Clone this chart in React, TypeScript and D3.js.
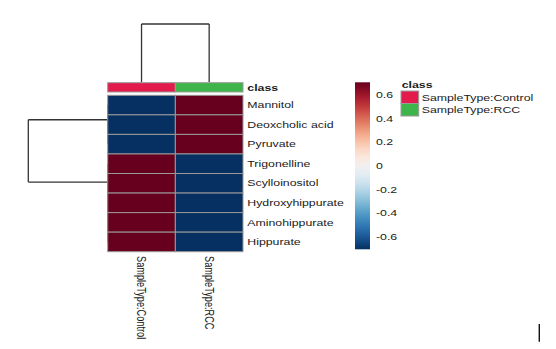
import React from 'react';
import * as d3 from 'd3';

const rowNames = ["Mannitol", "Deoxcholic acid", "Pyruvate", "Trigonelline", "Scylloinositol", "Hydroxyhippurate", "Aminohippurate", "Hippurate"];
const colNames = ["SampleType:Control", "SampleType:RCC"];
const controlValues = [-0.707, -0.707, -0.707, 0.707, 0.707, 0.707, 0.707, 0.707];
const rccValues = [0.707, 0.707, 0.707, -0.707, -0.707, -0.707, -0.707, -0.707];
const classLevels = ["SampleType:Control", "SampleType:RCC"];
const classColors = ["#e31b4c", "#3db54a"];
const legendTicks = [-0.6, -0.4, -0.2, 0, 0.2, 0.4, 0.6];
const valueMin = -0.707;
const valueMax = 0.707;
// hclust-style merges: negative = leaf index (1-based), positive = earlier merge
const rowMerge = [[-2, -3], [-1, 1], [-7, -8], [-6, 3], [-5, 4], [-4, 5], [2, 6]];
const rowHeights = [0, 0, 0, 0, 0, 0, 1];
const colMerge = [[-1, -2]];
const colHeights = [1];

const SX = 1.34;
const FS = 9.2;
const FONT = "'Liberation Sans', Arial, Helvetica, sans-serif";
const TEXT = "#1a1a1a";
const LINE = "#333333";

function dendro(merge: number[][], heights: number[], leafPos: (i: number) => number) {
  const pos: number[] = [];
  const segs: { h0: number; h1: number; p0: number; p1: number }[] = [];
  const P = (k: number) => (k < 0 ? leafPos(-k - 1) : pos[k - 1]);
  const Hh = (k: number) => (k < 0 ? 0 : heights[k - 1]);
  merge.forEach(([a, b], i) => {
    const pa = P(a), pb = P(b), h = heights[i];
    pos[i] = (pa + pb) / 2;
    segs.push({ h0: h, h1: h, p0: pa, p1: pb });
    segs.push({ h0: Hh(a), h1: h, p0: pa, p1: pa });
    segs.push({ h0: Hh(b), h1: h, p0: pb, p1: pb });
  });
  return segs;
}

export default function App() {
  const x = d3.scaleBand<string>().domain(colNames).range([107.7, 243]).padding(0);
  const y = d3.scaleBand<string>().domain(rowNames).range([95.3, 251.7]).padding(0);
  const color = (v: number) => d3.interpolateRdBu((valueMax - v) / (valueMax - valueMin));
  const colValues = [controlValues, rccValues];
  const classColor = d3.scaleOrdinal<string, string>().domain(classLevels).range(classColors);

  const rowH = d3.scaleLinear().domain([0, d3.max(rowHeights)!]).range([107.7, 28.3]);
  const colH = d3.scaleLinear().domain([0, d3.max(colHeights)!]).range([82.3, 24]);
  const rowSegs = dendro(rowMerge, rowHeights, (i) => y(rowNames[i])! + y.bandwidth() / 2);
  const colSegs = dendro(colMerge, colHeights, (i) => x(colNames[i])! + x.bandwidth() / 2);

  const barX = 355, barW = 15, barTop = 82.3, barBot = 249.3;
  const barScale = d3.scaleLinear().domain([valueMin, valueMax]).range([barBot, barTop]);
  const stops = d3.range(0, 1.0001, 0.05);
  const fmt = (t: number) => (t === 0 ? '0' : t.toFixed(1));

  const txt = (tx: number, ty: number, s: string, bold = false, key?: any) => (
    <text key={key ?? s} transform={`translate(${tx},${ty}) scale(${SX},1)`} dy="0.35em"
      fontSize={FS} fontFamily={FONT} fill={TEXT} fontWeight={bold ? 'bold' : 'normal'}>{s}</text>
  );

  return (
    <svg width={556} height={349} style={{ position: 'absolute', left: 0, top: 0, background: '#fff' }}>
      <defs>
        <linearGradient id="cb" x1="0" y1="0" x2="0" y2="1">
          {stops.map((t, i) => (
            <stop key={i} offset={t} stopColor={color(valueMax - t * (valueMax - valueMin))} />
          ))}
        </linearGradient>
      </defs>
      <rect width={556} height={349} fill="#fff" />
      {/* column dendrogram */}
      {colSegs.map((s, i) => (
        <line key={'c' + i} x1={s.p0} x2={s.p1} y1={colH(s.h0)} y2={colH(s.h1)} stroke={LINE} strokeWidth={1.3} />
      ))}
      {/* row dendrogram */}
      {rowSegs.map((s, i) => (
        <line key={'r' + i} y1={s.p0} y2={s.p1} x1={rowH(s.h0)} x2={rowH(s.h1)} stroke={LINE} strokeWidth={1.3} />
      ))}
      {/* class annotation */}
      {colNames.map((c, j) => (
        <rect key={'a' + c} x={x(c)} y={82.7} width={x.bandwidth()} height={9.3}
          fill={classColor(classLevels[j])} stroke="#999" strokeWidth={1} />
      ))}
      {txt(247.3, 87.4, 'class', true, 'classlab')}
      {/* heatmap */}
      {colNames.map((c, j) => rowNames.map((r, i) => (
        <rect key={c + r} x={x(c)} y={y(r)} width={x.bandwidth()} height={y.bandwidth()}
          fill={color(colValues[j][i])} stroke="#999" strokeWidth={1} />
      )))}
      {rowNames.map((r) => txt(247.3, y(r)! + y.bandwidth() / 2, r, false, 'rl' + r))}
      {colNames.map((c) => (
        <text key={'cl' + c} transform={`translate(${x(c)! + x.bandwidth() / 2},256) scale(${SX},1) rotate(90)`}
          dy="0.35em" fontSize={FS} fontFamily={FONT} fill={TEXT}>{c}</text>
      ))}
      {/* color bar */}
      <rect x={barX} y={barTop} width={barW} height={barBot - barTop} fill="url(#cb)" />
      {legendTicks.map((t) => txt(376, barScale(t), fmt(t), false, 't' + t))}
      {/* class legend */}
      {txt(401.7, 85, 'class', true, 'leg')}
      {classLevels.map((c, i) => (
        <g key={'lg' + c}>
          <rect x={401} y={91 + i * 12.5} width={17.7} height={12.5} fill={classColor(c)} stroke="#999" strokeWidth={1} />
          {txt(421.7, 97.3 + i * 12.6, c, false, 'lt' + c)}
        </g>
      ))}
      <line x1={539.3} x2={539.3} y1={324} y2={341.7} stroke="#111" strokeWidth={1.4} />
    </svg>
  );
}
